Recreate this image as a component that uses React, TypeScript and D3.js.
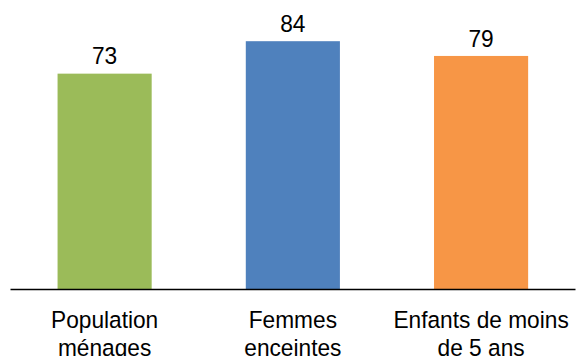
import React from "react";
import * as d3 from "d3";

const categories: string[][] = [
  ["Population", "ménages"],
  ["Femmes", "enceintes"],
  ["Enfants de moins", "de 5 ans"],
];
const values: number[] = [73, 84, 79];
const colors: string[] = ["#9BBB59", "#4F81BD", "#F79646"];

const W = 576;
const H = 356;
const baseY = 289;

export default function App() {
  const x = d3
    .scaleBand<number>()
    .domain(values.map((_, i) => i))
    .range([10.5, 575.2])
    .paddingInner(0.5)
    .paddingOuter(0.25);
  const y = d3.scaleLinear().domain([0, 100]).range([baseY, baseY - 295]);
  const font = "'Liberation Sans', Arial, sans-serif";
  const fs = 22.7;
  const sy = 1.09;

  return (
    <svg
      width={W}
      height={H}
      style={{ position: "absolute", left: 0, top: 0, background: "#fff" }}
    >
      {values.map((v, i) => (
        <rect
          key={"b" + i}
          x={x(i)}
          y={y(v)}
          width={x.bandwidth()}
          height={baseY - y(v)}
          fill={colors[i]}
        />
      ))}
      <line x1={10.5} x2={575.5} y1={baseY + 0.5} y2={baseY + 0.5} stroke="#000" strokeWidth={1.3} />
      {values.map((v, i) => (
        <g
          key={"v" + i}
          transform={`translate(${(x(i) as number) + x.bandwidth() / 2},${y(v) - 9.3}) scale(1,${sy})`}
        >
          <text textAnchor="middle" fontFamily={font} fontSize={fs} fill="#000">
            {v}
          </text>
        </g>
      ))}
      {categories.map((lines, i) =>
        lines.map((t, j) => (
          <g
            key={"c" + i + "-" + j}
            transform={`translate(${(x(i) as number) + x.bandwidth() / 2},${328.3 + j * 27.4}) scale(1,${sy})`}
          >
            <text textAnchor="middle" fontFamily={font} fontSize={fs} fill="#000">
              {t}
            </text>
          </g>
        ))
      )}
    </svg>
  );
}
